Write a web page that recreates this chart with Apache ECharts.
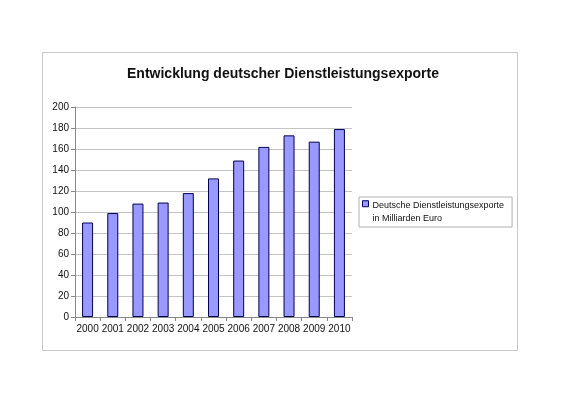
<!DOCTYPE html>
<html><head><meta charset="utf-8">
<script src="https://cdn.jsdelivr.net/npm/echarts@6/dist/echarts.min.js"></script>
<style>html,body{margin:0;padding:0;background:#fff}#c{width:566px;height:400px}</style>
</head><body><div id="c"></div>
<script>
const years = ['2000','2001','2002','2003','2004','2005','2006','2007','2008','2009','2010'];
const exportsBn = [90, 99, 108, 109, 118, 132, 149, 162, 173, 167, 179];
const yTicks = [0, 20, 40, 60, 80, 100, 120, 140, 160, 180, 200];
const seriesName = 'Deutsche Dienstleistungsexporte\nin Milliarden Euro';
const titleText = 'Entwicklung deutscher Dienstleistungsexporte';

const chart = echarts.init(document.getElementById('c'), null, {renderer: 'canvas'});
chart.setOption({
  animation: false,
  backgroundColor: '#fff',
  textStyle: {fontFamily: 'Liberation Sans, Arial, sans-serif'},
  graphic: [{
    type: 'rect', shape: {x: 42.5, y: 52.5, width: 475, height: 298},
    style: {fill: 'none', stroke: '#c8c8c8', lineWidth: 1}, z: -1
  }],
  title: {
    text: titleText, left: 'center', top: 62,
    textStyle: {fontSize: 14, fontWeight: 'bold', color: '#111', fontFamily: 'Liberation Sans, Arial, sans-serif'}
  },
  grid: {left: 75, right: 214, top: 107, bottom: 83, containLabel: false},
  xAxis: {
    type: 'category', data: years,
    axisLine: {lineStyle: {color: '#888'}},
    axisTick: {show: true, alignWithLabel: false, length: 4, lineStyle: {color: '#888'}},
    axisLabel: {fontSize: 10, color: '#111', margin: 7, interval: 0}
  },
  yAxis: {
    type: 'value', min: 0, max: 200, interval: 20,
    axisLine: {show: true, lineStyle: {color: '#888'}},
    axisTick: {show: true, length: 4, lineStyle: {color: '#888'}},
    axisLabel: {fontSize: 10, color: '#111', margin: 6,
      formatter: v => yTicks.includes(v) ? String(v) : ''},
    splitLine: {lineStyle: {color: '#c4c4c4'}}
  },
  legend: {
    left: 359, top: 197, orient: 'vertical',
    padding: [2, 8, 2, 3],
    borderColor: '#b0b0b0', borderWidth: 1,
    itemWidth: 6, itemHeight: 26, itemGap: 0,
    icon: 'path://M0,3.5h6v6h-6z M0,26h0.01v0.01z',
    textStyle: {fontSize: 9, color: '#111', lineHeight: 13, padding: [0,0,0,-1]},
    data: [{name: seriesName, itemStyle: {color: '#9999ff', borderColor: '#000060', borderWidth: 1}}]
  },
  series: [{
    name: seriesName, type: 'bar', data: exportsBn, barWidth: 11,
    itemStyle: {color: '#9999ff', borderColor: '#000050', borderWidth: 1}
  }]
});
</script></body></html>
